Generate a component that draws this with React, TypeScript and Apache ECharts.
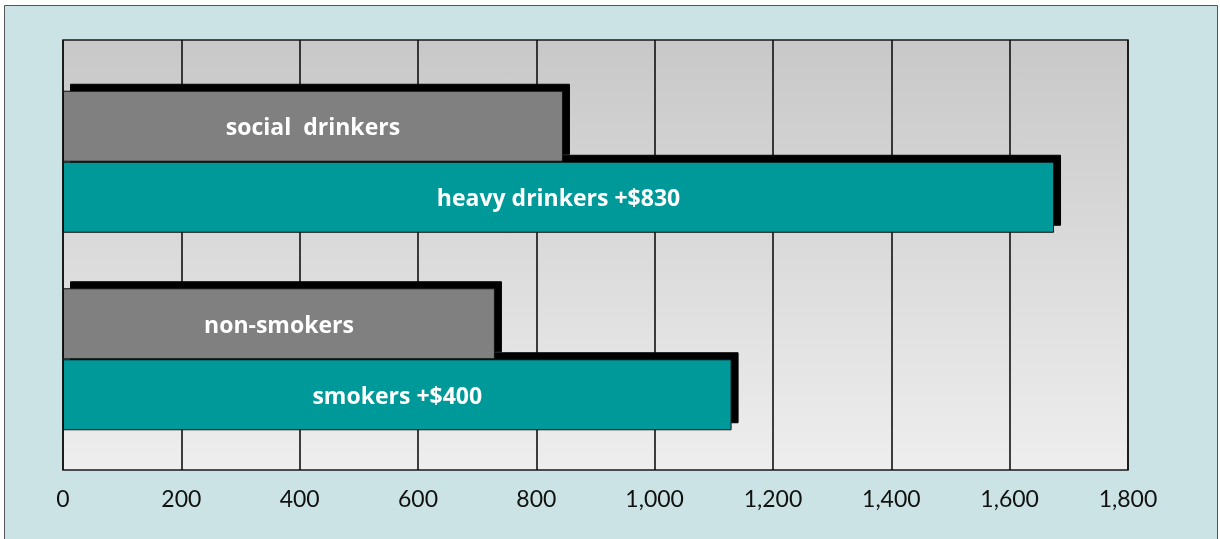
import React, { useEffect, useRef } from "react";
import * as echarts from "echarts";

// Annual cost by group, dollars (bottom group first on the category axis)
const groups = ["smokers", "drinkers"];
const baseLabels = ["non-smokers", "social  drinkers"];
const baseValues = [730, 845];
const riskLabels = ["smokers +$400", "heavy drinkers +$830"];
const riskValues = [1130, 1675];
const xTicks = { min: 0, max: 1800, interval: 200 };

const GRAY = "#808080";
const TEAL = "#009999";

export default function App() {
  const ref = useRef<HTMLDivElement>(null);

  useEffect(() => {
    if (!ref.current) return;
    const chart = echarts.init(ref.current, null, { renderer: "svg" });

    const barLabel = (names: string[]) => ({
      show: true,
      position: "inside" as const,
      color: "#ffffff",
      fontFamily: "Open Sans",
      fontWeight: "bold" as const,
      fontSize: 23,
      formatter: (p: any) => names[p.dataIndex],
    });

    const barStyle = (color: string) => ({
      color,
      borderColor: "#111",
      borderWidth: 1,
      shadowColor: "#000",
      shadowBlur: 0,
      shadowOffsetX: 7,
      shadowOffsetY: -7,
    });

    chart.setOption({
      animation: false,
      backgroundColor: "transparent",
      graphic: [
        {
          type: "rect",
          z: -10,
          silent: true,
          shape: { x: 4.5, y: 5.5, width: 1213, height: 1000 },
          style: { fill: "#cbe3e4", stroke: "#555", lineWidth: 1 },
        },
      ],
      grid: [
        {
          left: 63,
          width: 1065,
          top: 40,
          height: 430,
          show: true,
          backgroundColor: new echarts.graphic.LinearGradient(0, 0, 0, 1, [
            { offset: 0, color: "#c8c8c8" },
            { offset: 1, color: "#eeeeee" },
          ]),
          borderColor: "#1a1a1a",
          borderWidth: 1.5,
        },
        { left: 63, width: 1065, top: 63, height: 395 },
      ],
      xAxis: [
        {
          gridIndex: 0,
          type: "value",
          ...xTicks,
          axisLine: { show: false },
          axisTick: { show: false },
          splitLine: { show: true, lineStyle: { color: "#111", width: 1.6 } },
          axisLabel: {
            margin: 16,
            color: "#111",
            fontFamily: "Lato",
            fontSize: 23,
            formatter: (v: number) => v.toLocaleString("en-US"),
          },
        },
        {
          gridIndex: 1,
          type: "value",
          ...xTicks,
          show: false,
          splitLine: { show: false },
        },
      ],
      yAxis: [
        { gridIndex: 0, type: "category", data: groups, show: false },
        {
          gridIndex: 1,
          type: "category",
          data: groups,
          show: false,
          splitLine: { show: false },
        },
      ],
      series: [
        {
          type: "bar",
          xAxisIndex: 1,
          yAxisIndex: 1,
          data: baseValues,
          barWidth: 71,
          barGap: "0%",
          itemStyle: barStyle(GRAY),
          label: barLabel(baseLabels),
          z: 3,
        },
        {
          type: "bar",
          xAxisIndex: 1,
          yAxisIndex: 1,
          data: riskValues,
          barWidth: 71,
          barGap: "0%",
          itemStyle: barStyle(TEAL),
          label: barLabel(riskLabels),
          z: 2,
        },
      ],
    });

    return () => chart.dispose();
  }, []);

  return (
    <div
      ref={ref}
      style={{ position: "fixed", left: 0, top: 0, width: 1220, height: 539 }}
    />
  );
}
